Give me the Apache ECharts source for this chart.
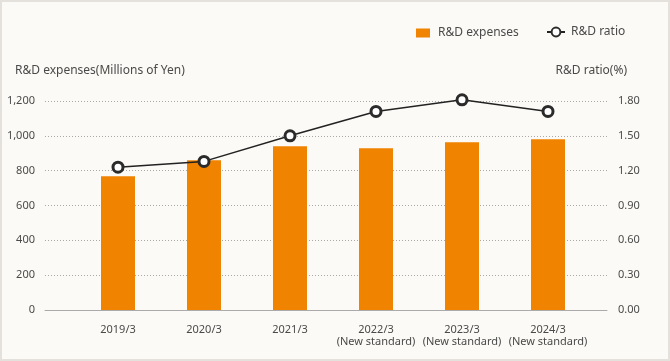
<!DOCTYPE html>
<html>
<head>
<meta charset="utf-8">
<script src="https://cdn.jsdelivr.net/npm/echarts@6/dist/echarts.min.js"></script>
<style>
html,body{margin:0;padding:0;background:#fcfaf6;}
#c{width:670px;height:361px;box-sizing:border-box;border:2px solid #e4e1dc;background:#fcfaf6;}
</style>
</head>
<body>
<div id="c"></div>
<script>
var categories = ['2019/3', '2020/3', '2021/3', '2022/3\n(New standard)', '2023/3\n(New standard)', '2024/3\n(New standard)'];
var expenses = [768, 860, 940, 929, 963, 980];
var ratio = [1.23, 1.28, 1.50, 1.71, 1.81, 1.71];
var leftTicks = [0, 200, 400, 600, 800, 1000, 1200];
var rightTicks = [0.00, 0.30, 0.60, 0.90, 1.20, 1.50, 1.80];

var FONT = '"Noto Sans", "Open Sans", sans-serif';
var TXT = '#4a4a4a';
var chart = echarts.init(document.getElementById('c'), null, {renderer: 'canvas'});

var leftMax = leftTicks[leftTicks.length - 1];
var leftInt = leftTicks[1] - leftTicks[0];
var rightMax = rightTicks[rightTicks.length - 1];
var rightInt = rightTicks[1] - rightTicks[0];

chart.setOption({
  backgroundColor: 'transparent',
  textStyle: {fontFamily: FONT},
  animation: false,
  grid: [
    {left: 43, right: 61, top: 99, bottom: 49},
    {left: 73, right: 77, top: 99, bottom: 49}
  ],
  legend: [
    {
      data: [{name: 'R&D expenses', icon: 'rect'}],
      left: 414, top: 25, padding: 0,
      itemWidth: 14, itemHeight: 9,
      textStyle: {color: TXT, fontSize: 12, fontFamily: FONT, padding: [0, 0, 0, 3]}
    },
    {
      data: ['R&D ratio'],
      left: 544, top: 24, padding: 0,
      itemWidth: 18, itemHeight: 11,
      textStyle: {color: TXT, fontSize: 12, fontFamily: FONT, padding: [0, 0, 0, 1]}
    }
  ],
  graphic: [
    {type: 'text', left: 13, top: 63, style: {text: 'R&D expenses(Millions of Yen)', fill: TXT, font: '12px ' + FONT}},
    {type: 'text', right: 41, top: 63, style: {text: 'R&D ratio(%)', fill: TXT, font: '12px ' + FONT}}
  ],
  xAxis: [
    {
      type: 'value', gridIndex: 0, min: 0, max: 1, show: true,
      axisLine: {show: true, onZero: false, lineStyle: {color: '#aaa', width: 1}},
      axisTick: {show: false}, axisLabel: {show: false}, splitLine: {show: false}
    },
    {
      type: 'category', gridIndex: 1, data: categories, boundaryGap: true,
      axisLine: {show: false}, axisTick: {show: false},
      axisLabel: {color: TXT, fontSize: 11, fontFamily: FONT, margin: 14, lineHeight: 12, interval: 0}
    }
  ],
  yAxis: [
    {
      type: 'value', gridIndex: 0, min: 0, max: leftMax, interval: leftInt, position: 'left',
      axisLine: {show: false}, axisTick: {show: false},
      axisLabel: {color: TXT, fontSize: 11, fontFamily: FONT, margin: 10,
        formatter: function (v) { return v.toLocaleString('en-US'); }},
      splitLine: {show: true, lineStyle: {color: '#a8a8a8', type: [1, 2], width: 1}}
    },
    {
      type: 'value', gridIndex: 0, min: 0, max: rightMax, interval: rightInt, position: 'right',
      axisLine: {show: false}, axisTick: {show: false},
      axisLabel: {color: TXT, fontSize: 11, fontFamily: FONT, margin: 11,
        formatter: function (v) { return v.toFixed(2); }},
      splitLine: {show: false}
    },
    {type: 'value', gridIndex: 1, min: 0, max: leftMax, interval: leftInt, show: false},
    {type: 'value', gridIndex: 1, min: 0, max: rightMax, interval: rightInt, show: false}
  ],
  series: [
    {
      name: 'R&D expenses', type: 'bar', xAxisIndex: 1, yAxisIndex: 2,
      data: expenses, barWidth: 34,
      itemStyle: {color: '#f08300'}
    },
    {
      name: 'R&D ratio', type: 'line', xAxisIndex: 1, yAxisIndex: 3,
      data: ratio, symbol: 'circle', symbolSize: 10, clip: false,
      lineStyle: {color: '#222', width: 1.5},
      itemStyle: {color: '#fff', borderColor: '#2b2b2b', borderWidth: 3}
    }
  ]
});
</script>
</body>
</html>
